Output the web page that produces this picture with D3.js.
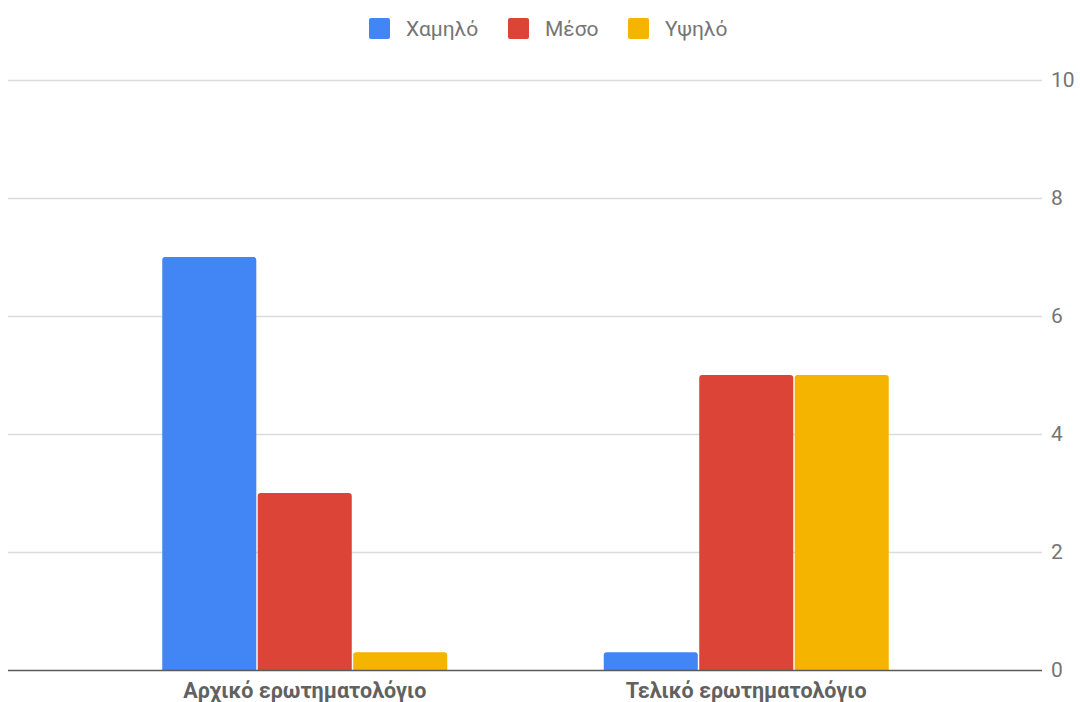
<!DOCTYPE html>
<html><head><meta charset="utf-8">
<script src="https://cdnjs.cloudflare.com/ajax/libs/d3/7.8.5/d3.min.js"></script>
<style>body{margin:0;background:#fff}svg{display:block;font-family:Roboto,Arial,sans-serif}</style>
</head><body><svg id="c" width="1080" height="702"></svg>
<script>
const categories = ["Αρχικό ερωτηματολόγιο", "Τελικό ερωτηματολόγιο"];
const seriesNames = ["Χαμηλό", "Μέσο", "Υψηλό"];
const colors = ["#4285f4", "#db4437", "#f4b400"];
const low = [7, 0.3];
const mid = [3, 5];
const high = [0.3, 5];
const yTicks = [0, 2, 4, 6, 8, 10];

const series = [low, mid, high];
const svg = d3.select("#c");
const y = d3.scaleLinear().domain([0, 10]).range([670, 80]);
const x0 = d3.scaleBand().domain(categories).range([84, 967]).paddingInner(0).paddingOuter(0);
const groupW = 285;
const x1 = d3.scaleBand().domain(seriesNames).range([0, groupW]).paddingInner(0.015);

// gridlines
svg.append("g").selectAll("line").data(yTicks.filter(d => d > 0)).join("line")
  .attr("x1", 8).attr("x2", 1042).attr("y1", d => y(d) + 0.5).attr("y2", d => y(d) + 0.5)
  .attr("stroke", "#dcdcdc").attr("stroke-width", 1.5);

// y tick labels
svg.append("g").selectAll("text").data(yTicks).join("text")
  .attr("x", 1051).attr("y", d => y(d)).attr("dy", "0.35em")
  .attr("font-size", 21).attr("fill", "#757575").text(d => d);

// bars
const r = 3;
function barPath(xl, w, yt, yb) {
  const h = yb - yt;
  const rr = Math.min(r, h / 2, w / 2);
  return `M${xl},${yb}V${yt + rr}Q${xl},${yt} ${xl + rr},${yt}H${xl + w - rr}Q${xl + w},${yt} ${xl + w},${yt + rr}V${yb}Z`;
}
categories.forEach((c, ci) => {
  const gx = x0(c) + (x0.bandwidth() - groupW) / 2;
  seriesNames.forEach((s, si) => {
    const v = series[si][ci];
    svg.append("path")
      .attr("d", barPath(gx + x1(s), x1.bandwidth(), y(v), y(0)))
      .attr("fill", colors[si]);
  });
  svg.append("text").attr("x", x0(c) + x0.bandwidth() / 2).attr("y", 698)
    .attr("text-anchor", "middle").attr("font-size", 21.5).attr("font-weight", "bold")
    .attr("fill", "#616161").text(c);
});

// baseline
svg.append("line").attr("x1", 8).attr("x2", 1042).attr("y1", y(0) + 0.5).attr("y2", y(0) + 0.5)
  .attr("stroke", "#5a5a5a").attr("stroke-width", 1.5);

// legend
const legX = [369, 508, 628];
const lg = svg.append("g").selectAll("g").data(seriesNames).join("g")
  .attr("transform", (d, i) => `translate(${legX[i]},18)`);
lg.append("rect").attr("width", 21).attr("height", 21).attr("rx", 2).attr("fill", (d, i) => colors[i]);
lg.append("text").attr("x", 37).attr("y", 11).attr("dy", "0.35em")
  .attr("font-size", 21).attr("fill", "#757575").text(d => d);
</script></body></html>
